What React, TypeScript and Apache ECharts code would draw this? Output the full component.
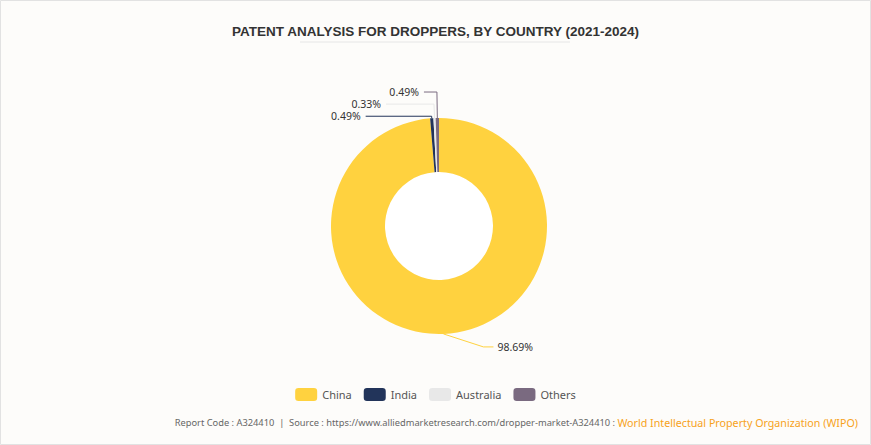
import React, { useEffect, useRef } from "react";
import * as echarts from "echarts";

const categories = ["China", "India", "Australia", "Others"];
const values = [98.69, 0.49, 0.33, 0.49];
const colors = ["#FFD23F", "#22345A", "#E8E8E8", "#7A6A80"];
// label line lengths per slice (style)
const lineLen = [15, 2, 14, 26];
const lineLen2 = [12, 66, 48, 13];

export default function App() {
  const ref = useRef<HTMLDivElement>(null);
  useEffect(() => {
    if (!ref.current) return;
    const chart = echarts.init(ref.current, null, { renderer: "svg" });
    chart.setOption({
      animation: false,
      backgroundColor: "#FDFCFA",
      title: {
        text: "PATENT ANALYSIS FOR DROPPERS, BY COUNTRY (2021-2024)",
        left: "center",
        top: 19,
        textStyle: { fontFamily: "Liberation Sans, Arial, sans-serif", fontWeight: "bold", fontSize: 13.5, color: "#333" },
      },
      graphic: [
        { type: "rect", shape: { x: 0.5, y: 0.5, width: 870, height: 444 }, style: { fill: "none", stroke: "#E2E2E2", lineWidth: 1 }, silent: true },
        { type: "line", shape: { x1: 300, y1: 42, x2: 570, y2: 42 }, style: { stroke: "#E6E6E6", lineWidth: 1 } },
        { type: "circle", shape: { cx: 439, cy: 226, r: 54 }, style: { fill: "#FFFFFF" }, z: -1 },
        {
          type: "text",
          right: 13,
          top: 417,
          style: {
            rich: {
              a: { fontFamily: "Noto Sans, sans-serif", fontSize: 9.3, fill: "#666" },
              b: { fontFamily: "Noto Sans, sans-serif", fontSize: 10.7, fill: "#F7A21B" },
            },
            text: "{a|Report Code : A324410  |  Source : https://www.alliedmarketresearch.com/dropper-market-A324410 : }{b|World Intellectual Property Organization (WIPO)}",
          },
        },
      ],
      legend: {
        top: 383,
        left: "center",
        itemWidth: 22,
        itemHeight: 13,
        itemGap: 12,
        icon: "roundRect",
        textStyle: { fontSize: 11, color: "#555", fontFamily: "Noto Sans, sans-serif" },
        data: categories,
      },
      series: [
        {
          type: "pie",
          center: [439, 226],
          radius: [54, 108],
          startAngle: 90,
          clockwise: true,
          avoidLabelOverlap: false,
          label: {
            formatter: (p: any) => `${p.value}%`,
            fontSize: 10.5,
            color: "#333",
            fontFamily: "Noto Sans, sans-serif",
          },
          labelLayout: (p: any) => {
            if (p.dataIndex !== 0 || !p.labelLinePoints) return {};
            const p0 = p.labelLinePoints[0];
            const p1 = [p0[0] + 40, p0[1] + 13];
            const p2 = [p1[0] + 10, p1[1]];
            return {
              x: p2[0] + 4,
              y: p2[1],
              align: "left",
              verticalAlign: "middle",
              labelLinePoints: [p0, p1, p2],
            };
          },
          labelLine: { lineStyle: { width: 1 } },
          data: categories.map((c, i) => ({
            name: c,
            value: values[i],
            itemStyle: { color: colors[i] },
            labelLine: { length: lineLen[i], length2: lineLen2[i] },
          })),
        },
      ],
    });
    return () => chart.dispose();
  }, []);
  return <div ref={ref} style={{ position: "fixed", left: 0, top: 0, width: 871, height: 445 }} />;
}
